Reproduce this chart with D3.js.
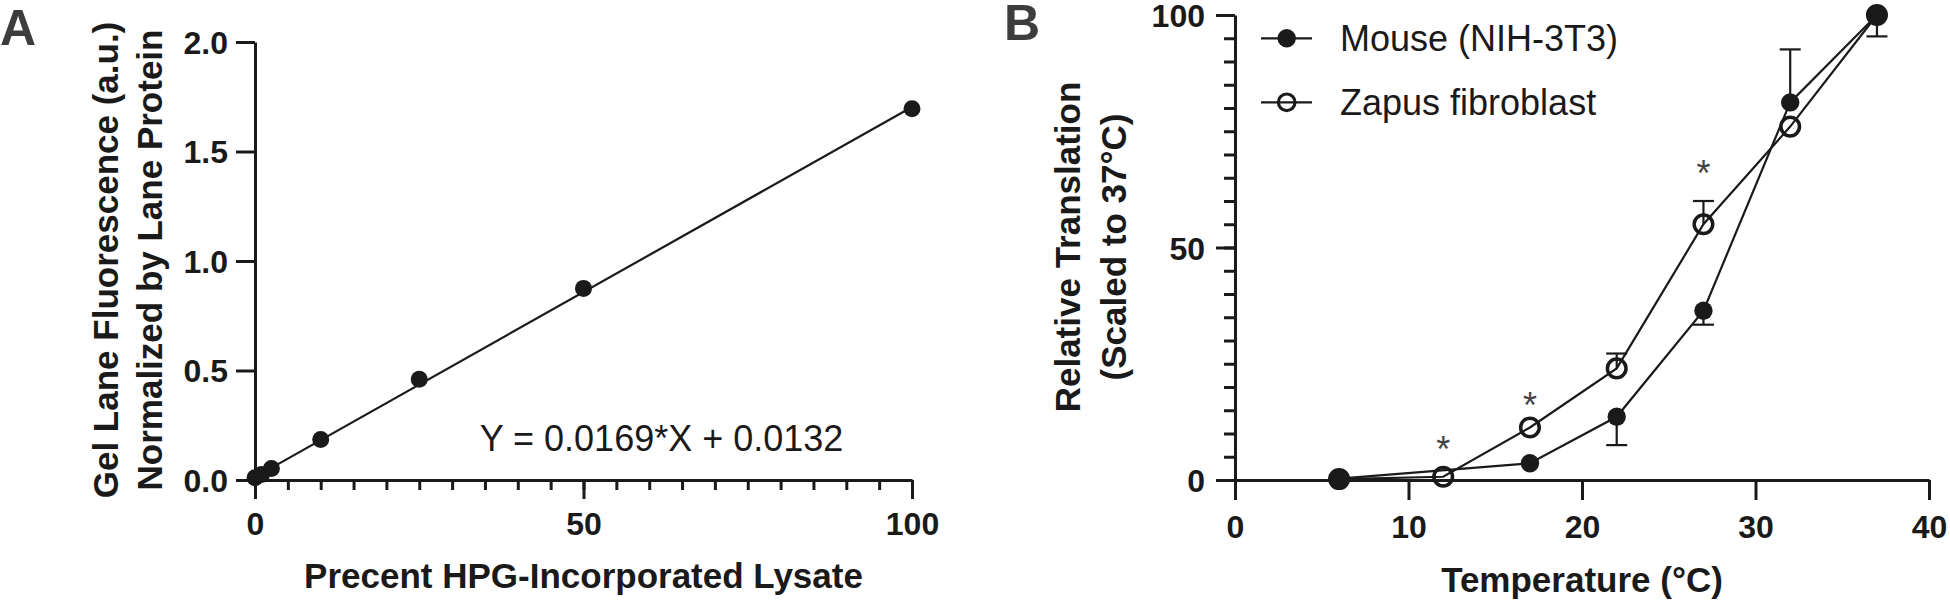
<!DOCTYPE html>
<html><head><meta charset="utf-8">
<script src="https://cdn.jsdelivr.net/npm/d3@7"></script>
<style>body{margin:0;background:#fff}svg{display:block}</style>
</head><body><svg id="c" width="1950" height="604"></svg>
<script>
// ---------- Panel A data ----------
const hpgPercent = [0, 1, 2.5, 10, 25, 50, 100];
const laneFluor  = [0.01, 0.025, 0.053, 0.185, 0.46, 0.875, 1.695];
const fitSlope = 0.0169, fitIntercept = 0.0132;
const fitLabel = "Y = 0.0169*X + 0.0132";
const aXTicks = [0, 50, 100];
const aXMinor = [0,5,10,15,20,25,30,35,40,45,50,55,60,65,70,75,80,85,90,95,100];
const aYTicks = [0, 0.5, 1.0, 1.5, 2.0];

// ---------- Panel B data ----------
const seriesNames = ["Mouse (NIH-3T3)", "Zapus fibroblast"];
const mouseTemp  = [6, 17, 22, 27, 32, 37];
const mouseValue = [0.3, 3.6, 13.6, 36.4, 81.2, 100];
const mouseErr   = [0, 0, -6.1, -3.0, 11.4, -4.6];
const zapusTemp  = [6, 12, 17, 22, 27, 32, 37];
const zapusValue = [0.2, 0.7, 11.3, 24.0, 55.0, 76.0, 100];
const zapusErr   = [0, 0, 0, 3.2, 5.0, 0, 0];
const starTemp  = [12, 17, 27];
const starValue = [8.4, 17.9, 67.7];
const bXTicks = [0, 10, 20, 30, 40];
const bYTicks = [0, 50, 100];
const bYMinor = [0,5,10,15,20,25,30,35,40,45,50,55,60,65,70,75,80,85,90,95,100];

// ---------- setup ----------
const ink = "#1a1a1a";
const font = "'Liberation Sans', Arial, Helvetica, sans-serif";
const svg = d3.select("#c");

function styleAxis(g, sw) {
  g.selectAll("path,line").attr("stroke", ink).attr("stroke-width", sw || 3);
  g.selectAll("text").attr("fill", ink).style("font-family", font)
    .style("font-weight", "bold").style("font-size", "32px");
}
function txt(x, y, s, size, weight, anchor, fill) {
  return svg.append("text").attr("x", x).attr("y", y).text(s)
    .style("font-family", font).style("font-size", size + "px")
    .style("font-weight", weight).attr("text-anchor", anchor).attr("fill", fill || ink);
}

// ================= Panel A =================
const xA = d3.scaleLinear([0, 100], [255, 912]);
const yA = d3.scaleLinear([0, 2], [480, 42]);

svg.append("g").attr("transform", `translate(0,${yA(0)})`)
  .call(d3.axisBottom(xA).tickValues(aXMinor).tickSize(10).tickSizeOuter(0).tickFormat(""))
  .call(g => { g.select(".domain").remove(); styleAxis(g); });
svg.append("g").attr("transform", `translate(0,${yA(0)})`)
  .call(d3.axisBottom(xA).tickValues(aXTicks).tickSize(19).tickSizeOuter(0))
  .call(g => { styleAxis(g); g.selectAll("text").attr("y", 55).attr("dy", null); });
svg.append("g").attr("transform", `translate(${xA(0)},0)`)
  .call(d3.axisLeft(yA).tickValues(aYTicks).tickSize(19).tickSizeOuter(0).tickFormat(d3.format(".1f")))
  .call(g => { styleAxis(g); g.selectAll("text").attr("x", -27).attr("y", 11).attr("dy", null); });

// fit line
const fitX = d3.extent(hpgPercent);
svg.append("path")
  .attr("d", d3.line().x(d => xA(d)).y(d => yA(fitSlope * d + fitIntercept))(fitX))
  .attr("fill", "none").attr("stroke", ink).attr("stroke-width", 2.2);
svg.append("g").selectAll("circle").data(hpgPercent).join("circle")
  .attr("cx", d => xA(d)).attr("cy", (d, i) => yA(laneFluor[i])).attr("r", 8.5).attr("fill", ink);

txt(xA(34.2), yA(0.134), fitLabel, 36, "normal", "start");

txt(583.5, 588, "Precent HPG-Incorporated Lysate", 35, "bold", "middle");
txt(0, 0, "Gel Lane Fluorescence (a.u.)", 35, "bold", "middle").attr("transform", "translate(118,260) rotate(-90)");
txt(0, 0, "Normalized by Lane Protein", 35, "bold", "middle").attr("transform", "translate(162,260) rotate(-90)");
txt(0, 45, "A", 50, "bold", "start", "#3d3d3d");

// ================= Panel B =================
const xB = d3.scaleLinear([0, 40], [1235, 1929]);
const yB = d3.scaleLinear([0, 100], [480, 15]);

svg.append("g").attr("transform", `translate(0,${yB(0)})`)
  .call(d3.axisBottom(xB).tickValues(bXTicks).tickSize(20).tickSizeOuter(0))
  .call(g => { styleAxis(g); g.selectAll("text").attr("y", 58).attr("dy", null); });
svg.append("g").attr("transform", `translate(${xB(0)},0)`)
  .call(d3.axisLeft(yB).tickValues(bYMinor).tickSize(11).tickSizeOuter(0).tickFormat(""))
  .call(g => { g.select(".domain").remove(); styleAxis(g); });
svg.append("g").attr("transform", `translate(${xB(0)},0)`)
  .call(d3.axisLeft(yB).tickValues(bYTicks).tickSize(19).tickSizeOuter(0))
  .call(g => { styleAxis(g); g.selectAll("text").attr("x", -30).attr("y", 11.5).attr("dy", null); });

const lineB = d3.line().x(d => xB(d[0])).y(d => yB(d[1]));
const zapusPts = zapusTemp.map((t, i) => [t, zapusValue[i], zapusErr[i]]);
const mousePts = mouseTemp.map((t, i) => [t, mouseValue[i], mouseErr[i]]);

svg.append("path").attr("d", lineB(zapusPts)).attr("fill", "none").attr("stroke", ink).attr("stroke-width", 2.2);
svg.append("path").attr("d", lineB(mousePts)).attr("fill", "none").attr("stroke", ink).attr("stroke-width", 2.2);

// error bars
const errG = svg.append("g").attr("stroke", ink).attr("stroke-width", 2.2);
[...mousePts, ...zapusPts].filter(d => d[2] !== 0).forEach(d => {
  const x = xB(d[0]), y0 = yB(d[1]), y1 = yB(d[1] + d[2]);
  errG.append("line").attr("x1", x).attr("x2", x).attr("y1", y0).attr("y2", y1);
  errG.append("line").attr("x1", x - 10.5).attr("x2", x + 10.5).attr("y1", y1).attr("y2", y1);
});

svg.append("g").selectAll("circle").data(zapusPts).join("circle")
  .attr("cx", d => xB(d[0])).attr("cy", d => yB(d[1])).attr("r", 9.3)
  .attr("fill", "none").attr("stroke", ink).attr("stroke-width", 3.5);
svg.append("g").selectAll("circle").data(mousePts).join("circle")
  .attr("cx", d => xB(d[0])).attr("cy", d => yB(d[1])).attr("r", 9.2).attr("fill", ink);

// significance stars
starTemp.forEach((t, i) => {
  txt(xB(t), yB(starValue[i]) + 21, "*", 36, "normal", "middle", "#444");
});

// legend
const legY = [38.3, 102.3];
seriesNames.forEach((name, i) => {
  const y = legY[i];
  svg.append("line").attr("x1", 1261).attr("x2", 1312).attr("y1", y).attr("y2", y)
    .attr("stroke", ink).attr("stroke-width", 2.2);
  if (i === 0) svg.append("circle").attr("cx", 1286.7).attr("cy", y).attr("r", 9.2).attr("fill", ink);
  else svg.append("circle").attr("cx", 1286.7).attr("cy", y).attr("r", 8.3)
    .attr("fill", "none").attr("stroke", ink).attr("stroke-width", 3.2);
  txt(1340, y + 12.5, name, 36, "normal", "start");
});

txt(1582, 592, "Temperature (°C)", 35, "bold", "middle");
txt(0, 0, "Relative Translation", 35, "bold", "middle").attr("transform", "translate(1080,247) rotate(-90)");
txt(0, 0, "(Scaled to 37°C)", 35, "bold", "middle").attr("transform", "translate(1126,247) rotate(-90)");
txt(1004, 40, "B", 50, "bold", "start", "#3d3d3d");
</script>
</body></html>
